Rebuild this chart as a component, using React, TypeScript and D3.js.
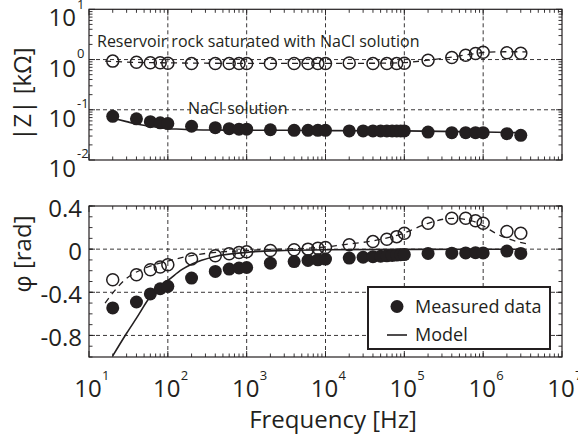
import { useEffect, useRef } from "react";
import * as d3 from "d3";

// measured frequencies [Hz]
const freqRock = [
  20, 40, 60, 80, 100, 200, 400, 600, 800, 1e3, 2e3, 4e3, 6e3, 8e3, 1e4, 2e4, 4e4, 6e4, 8e4, 1e5,
  2e5, 4e5, 6e5, 8e5, 1e6, 2e6, 3e6,
];
const freqNaCl = [
  20, 40, 60, 80, 100, 200, 400, 600, 800, 1e3, 2e3, 4e3, 6e3, 8e3, 1e4, 2e4, 3e4, 4e4, 5e4, 6e4,
  7e4, 8e4, 9e4, 1e5, 2e5, 4e5, 6e5, 8e5, 1e6, 2e6, 3e6,
];

// |Z| [kOhm]
const rockMagnitude = [
  0.93, 0.88, 0.86, 0.86, 0.84, 0.83, 0.83, 0.83, 0.83, 0.83, 0.83, 0.83, 0.83, 0.83, 0.83, 0.85,
  0.83, 0.83, 0.83, 0.84, 0.97, 1.1, 1.22, 1.32, 1.4, 1.36, 1.33,
];
const naclMagnitude = [
  0.074, 0.066, 0.058, 0.055, 0.053, 0.047, 0.044, 0.042, 0.041, 0.041, 0.04, 0.039, 0.039, 0.039,
  0.039, 0.038, 0.038, 0.038, 0.038, 0.038, 0.038, 0.038, 0.038, 0.038, 0.036, 0.035, 0.035, 0.035,
  0.035, 0.0335, 0.031,
];

// phase [rad]
const rockPhase = [
  -0.283, -0.237, -0.191, -0.166, -0.145, -0.092, -0.062, -0.043, -0.031, -0.025, -0.013, -0.006, 0,
  0.009, 0.015, 0.04, 0.07, 0.092, 0.116, 0.148, 0.24, 0.286, 0.286, 0.264, 0.24, 0.163, 0.148,
];
const naclPhase = [
  -0.545, -0.49, -0.415, -0.367, -0.345, -0.268, -0.207, -0.185, -0.175, -0.17, -0.13, -0.115,
  -0.105, -0.099, -0.092, -0.083, -0.075, -0.07, -0.066, -0.062, -0.058, -0.055, -0.052, -0.05,
  -0.04, -0.037, -0.035, -0.033, -0.035, -0.018, -0.04,
];

// model for NaCl solution (solid)
const modelFreq = [20, 30, 40, 60, 80, 100, 150, 200, 400, 1e3, 3e3, 1e4, 1e5, 1e6, 3e6];
const modelMagnitude = [
  0.068, 0.058, 0.052, 0.047, 0.044, 0.042, 0.041, 0.04, 0.0395, 0.039, 0.039, 0.0385, 0.038,
  0.036, 0.035,
];
const modelPhase = [
  -0.99, -0.78, -0.64, -0.44, -0.34, -0.29, -0.19, -0.14, -0.068, -0.03, -0.012, -0.005, -0.002,
  -0.001, -0.001,
];

// model for the saturated rock (dashed)
const rockFitFreq = [
  16, 22, 30, 50, 100, 185, 300, 1e3, 1e4, 1.6e4, 5e4, 1e5, 2e5, 4e5, 7e5, 1e6, 1.5e6, 2.2e6, 3.5e6,
];
const rockFitMagnitude = [
  0.93, 0.91, 0.89, 0.87, 0.86, 0.85, 0.845, 0.84, 0.84, 0.84, 0.845, 0.87, 0.97, 1.12, 1.28, 1.38,
  1.42, 1.43, 1.42,
];
const rockFitPhase = [
  -0.5, -0.37, -0.27, -0.18, -0.11, -0.065, -0.04, -0.012, 0.02, 0.04, 0.09, 0.15, 0.24, 0.285,
  0.265, 0.215, 0.14, 0.09, 0.05,
];

const xExponents = [1, 2, 3, 4, 5, 6, 7];
const magExponents = [1, 0, -1, -2];
const phaseTicks = [0.4, 0, -0.4, -0.8];
const phaseGrid = [0, -0.4, -0.8];

const FONT = "'Open Sans', sans-serif";
const INK = "#231f20";

export default function App() {
  const svgRef = useRef<SVGSVGElement>(null);

  useEffect(() => {
    const svgEl = svgRef.current;
    if (!svgEl) return;
    const svg = d3.select(svgEl);
    svg.selectAll("*").remove();

    const left = 89;
    const right = 562;
    const top1 = 9.3;
    const bot1 = 160;
    const top2 = 206;
    const bot2 = 357;

    const x = d3.scaleLog().domain([10, 1e7]).range([left, right]);
    const yMag = d3.scaleLog().domain([0.01, 10]).range([bot1, top1]);
    const yPh = d3.scaleLinear().domain([-1, 0.4]).range([bot2, top2]);

    const defs = svg.append("defs");
    defs
      .append("clipPath")
      .attr("id", "clip-mag")
      .append("rect")
      .attr("x", left)
      .attr("y", top1)
      .attr("width", right - left)
      .attr("height", bot1 - top1);
    defs
      .append("clipPath")
      .attr("id", "clip-ph")
      .append("rect")
      .attr("x", left)
      .attr("y", top2)
      .attr("width", right - left)
      .attr("height", bot2 - top2);

    const minorX: number[] = [];
    for (let e = 1; e < 7; e++) for (let k = 2; k <= 9; k++) minorX.push(k * 10 ** e);
    const minorMag: number[] = [];
    for (let e = -2; e < 1; e++) for (let k = 2; k <= 9; k++) minorMag.push(k * 10 ** e);
    const minorPh = d3.range(-10, 5).map((i) => i / 10);

    const panel = (
      y: d3.ScaleContinuousNumeric<number, number>,
      top: number,
      bot: number,
      hGrid: number[],
      yMajor: number[],
      yMinor: number[],
      clip: string,
      magSeries: boolean,
    ) => {
      const g = svg.append("g");
      // grid
      g.selectAll(".vg")
        .data(xExponents.slice(1, -1))
        .enter()
        .append("line")
        .attr("x1", (d) => x(10 ** d))
        .attr("x2", (d) => x(10 ** d))
        .attr("y1", top)
        .attr("y2", bot)
        .attr("stroke", INK)
        .attr("stroke-width", 0.9)
        .attr("stroke-dasharray", "4,3");
      g.selectAll(".hg")
        .data(hGrid)
        .enter()
        .append("line")
        .attr("x1", left)
        .attr("x2", right)
        .attr("y1", (d) => y(d))
        .attr("y2", (d) => y(d))
        .attr("stroke", INK)
        .attr("stroke-width", 0.9)
        .attr("stroke-dasharray", "4,3");

      const plot = g.append("g").attr("clip-path", `url(#${clip})`);
      const rockVals = magSeries ? rockFitMagnitude : rockFitPhase;
      const modelVals = magSeries ? modelMagnitude : modelPhase;
      const line = d3
        .line<[number, number]>()
        .x((d) => x(d[0]))
        .y((d) => y(d[1]))
        .curve(d3.curveMonotoneX);
      plot
        .append("path")
        .attr("d", line(rockFitFreq.map((f, i) => [f, rockVals[i]] as [number, number])))
        .attr("fill", "none")
        .attr("stroke", INK)
        .attr("stroke-width", 1.3)
        .attr("stroke-dasharray", "6,5");
      plot
        .append("path")
        .attr("d", line(modelFreq.map((f, i) => [f, modelVals[i]] as [number, number])))
        .attr("fill", "none")
        .attr("stroke", INK)
        .attr("stroke-width", 1.6);

      const rockData = magSeries ? rockMagnitude : rockPhase;
      const naclData = magSeries ? naclMagnitude : naclPhase;
      plot
        .selectAll(".open")
        .data(freqRock.map((f, i) => [f, rockData[i]]))
        .enter()
        .append("circle")
        .attr("cx", (d) => x(d[0]))
        .attr("cy", (d) => y(d[1]))
        .attr("r", 6)
        .attr("fill", "none")
        .attr("stroke", INK)
        .attr("stroke-width", 1.5);
      plot
        .selectAll(".filled")
        .data(freqNaCl.map((f, i) => [f, naclData[i]]))
        .enter()
        .append("circle")
        .attr("cx", (d) => x(d[0]))
        .attr("cy", (d) => y(d[1]))
        .attr("r", 6.5)
        .attr("fill", INK);

      // frame + ticks
      g.append("rect")
        .attr("x", left)
        .attr("y", top)
        .attr("width", right - left)
        .attr("height", bot - top)
        .attr("fill", "none")
        .attr("stroke", INK)
        .attr("stroke-width", 1.2);
      const tickAttrs = (sel: any) => sel.attr("stroke", INK).attr("stroke-width", 0.9);
      const xt = (vals: number[], len: number) => {
        vals.forEach((v) => {
          tickAttrs(g.append("line").attr("x1", x(v)).attr("x2", x(v)).attr("y1", bot).attr("y2", bot - len));
          tickAttrs(g.append("line").attr("x1", x(v)).attr("x2", x(v)).attr("y1", top).attr("y2", top + len));
        });
      };
      const yt = (vals: number[], len: number) => {
        vals.forEach((v) => {
          tickAttrs(g.append("line").attr("x1", left).attr("x2", left + len).attr("y1", y(v)).attr("y2", y(v)));
          tickAttrs(g.append("line").attr("x1", right).attr("x2", right - len).attr("y1", y(v)).attr("y2", y(v)));
        });
      };
      xt(xExponents.map((e) => 10 ** e), 6);
      xt(minorX, 3.5);
      yt(yMajor, 6);
      yt(yMinor, 3.5);
      return g;
    };

    panel(yMag, top1, bot1, [1, 0.1], magExponents.map((e) => 10 ** e), minorMag, "clip-mag", true);
    panel(yPh, top2, bot2, phaseGrid, phaseTicks, minorPh, "clip-ph", false);

    const txt = (xx: number, yy: number, s: string, size: number, anchor = "start") =>
      svg
        .append("text")
        .attr("x", xx)
        .attr("y", yy)
        .attr("font-family", FONT)
        .attr("font-size", size)
        .attr("fill", INK)
        .attr("text-anchor", anchor)
        .text(s);

    // magnitude tick labels
    magExponents.forEach((e) => {
      const yy = yMag(10 ** e);
      txt(76, yy + 17, "10", 24, "end");
      txt(77, Math.max(yy - 2, 9), String(e), 13);
    });
    // phase tick labels
    phaseTicks.forEach((v) => {
      txt(82, yPh(v) + 11, v === 0 ? "0" : String(v), 24, "end");
    });
    // frequency tick labels
    xExponents.forEach((e) => {
      const xx = x(10 ** e) - 1;
      txt(xx, 397, "10", 24, "middle");
      txt(xx + 14, 380, String(e), 13);
    });

    // axis titles
    svg
      .append("text")
      .attr("transform", `translate(31,94) rotate(-90)`)
      .attr("font-family", FONT)
      .attr("font-size", 24)
      .attr("fill", INK)
      .attr("text-anchor", "middle")
      .text("|Z| [kΩ]");
    svg
      .append("text")
      .attr("transform", `translate(31,254) rotate(-90)`)
      .attr("font-family", FONT)
      .attr("font-size", 24)
      .attr("fill", INK)
      .attr("text-anchor", "middle")
      .text("φ [rad]");
    txt(333, 428, "Frequency [Hz]", 24, "middle");

    // annotations
    txt(97, 46.5, "Reservoir rock saturated with NaCl solution", 16);
    txt(188, 114, "NaCl solution", 16);

    // legend
    const lg = svg.append("g");
    lg.append("rect")
      .attr("x", 368)
      .attr("y", 287)
      .attr("width", 182)
      .attr("height", 62)
      .attr("fill", "#fff")
      .attr("stroke", INK)
      .attr("stroke-width", 2);
    lg.append("circle").attr("cx", 397).attr("cy", 306.5).attr("r", 6.5).attr("fill", INK);
    lg.append("line")
      .attr("x1", 387)
      .attr("x2", 407)
      .attr("y1", 335)
      .attr("y2", 335)
      .attr("stroke", INK)
      .attr("stroke-width", 1.6);
    lg.append("text")
      .attr("x", 415)
      .attr("y", 313)
      .attr("font-family", FONT)
      .attr("font-size", 18)
      .attr("fill", INK)
      .text("Measured data");
    lg.append("text")
      .attr("x", 415)
      .attr("y", 341)
      .attr("font-family", FONT)
      .attr("font-size", 18)
      .attr("fill", INK)
      .text("Model");
  }, []);

  return (
    <svg
      ref={svgRef}
      width={578}
      height={437}
      style={{ position: "absolute", left: 0, top: 0, background: "#fff", display: "block" }}
    />
  );
}
